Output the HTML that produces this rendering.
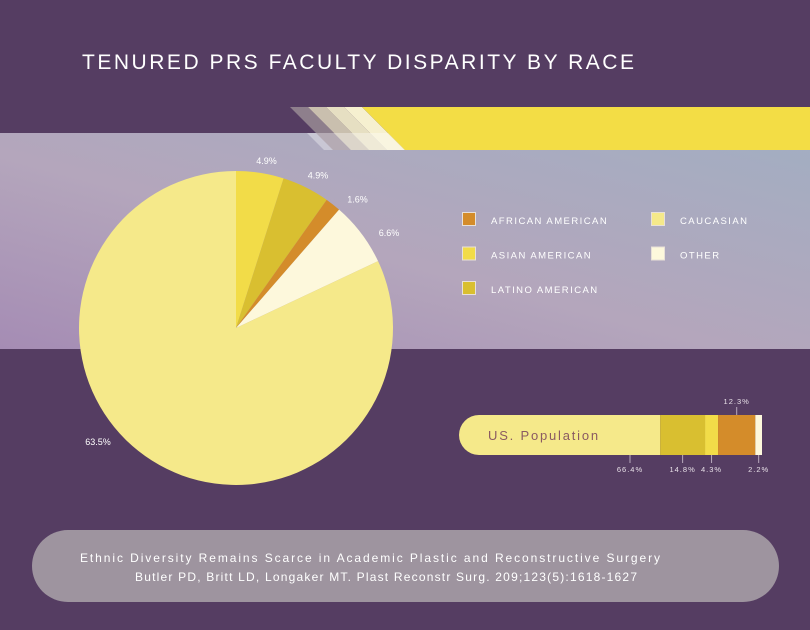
<!DOCTYPE html>
<html><head><meta charset="utf-8"><style>
body{margin:0;width:810px;height:630px;overflow:hidden;background:#553d62;font-family:"Liberation Sans",sans-serif}
svg{display:block}
</style></head><body>
<svg width="810" height="630" viewBox="0 0 810 630">
<defs>
<linearGradient id="band" x1="0" y1="1" x2="1" y2="0">
<stop offset="0" stop-color="#a58cb4"/><stop offset="0.45" stop-color="#b4a6bc"/><stop offset="1" stop-color="#a2aec2"/>
</linearGradient>
</defs>
<rect x="0" y="0" width="810" height="630" fill="#553d62"/>
<text x="82" y="69" fill="#fff" font-size="21" textLength="552" lengthAdjust="spacing">TENURED PRS FACULTY DISPARITY BY RACE</text>
<rect x="0" y="133" width="810" height="216" fill="url(#band)"/>
<g>
<polygon points="290,107 308,107 351,150 333,150" fill="#8e7f8c"/>
<polygon points="308,107 326,107 369,150 351,150" fill="#c9bfae"/>
<polygon points="326,107 344,107 387,150 369,150" fill="#e6dfc2"/>
<polygon points="344,107 362,107 405,150 387,150" fill="#f6f0d0"/>
<polygon points="307,133 387,133 404,150 324,150" fill="#fff" opacity="0.35"/>
<polygon points="362,107 810,107 810,150 405,150" fill="#f3dd45"/>
</g>
<g id="pie"></g>
<g id="legend"></g>
<g id="bar"></g>
<rect x="32" y="530" width="747" height="72" rx="36" fill="#9e949f"/>
<text x="80" y="562" fill="#fff" font-size="12" textLength="580" lengthAdjust="spacing">Ethnic Diversity Remains Scarce in Academic Plastic and Reconstructive Surgery</text>
<text x="135" y="581" fill="#fff" font-size="12" textLength="502" lengthAdjust="spacing">Butler PD, Britt LD, Longaker MT. Plast Reconstr Surg. 209;123(5):1618-1627</text>
</svg>
<script>
const pieCategories=["Asian American","Latino American","African American","Other","Caucasian"];
const pieValues=[4.9,4.9,1.6,6.6,63.5];
const pieLabels=["4.9%","4.9%","1.6%","6.6%","63.5%"];
const pieColors=["#f2dc48","#d9bf30","#d48c2a","#fdf8dc","#f5e98a"];
const barCategories=["Caucasian","Latino American","Asian American","African American","Other"];
const barValues=[66.4,14.8,4.3,12.3,2.2];
const barLabels=["66.4%","14.8%","4.3%","12.3%","2.2%"];
const barColors=["#f5e98a","#d9bf30","#f2dc48","#d48c2a","#fdf8dc"];
const legendItems=[["AFRICAN AMERICAN","#d48c2a"],["ASIAN AMERICAN","#f2dc48"],["LATINO AMERICAN","#d9bf30"],["CAUCASIAN","#f5e98a"],["OTHER","#fdf8dc"]];
const NS="http://www.w3.org/2000/svg";
function mk(t,a,p){const e=document.createElementNS(NS,t);for(const k in a)e.setAttribute(k,a[k]);p.appendChild(e);return e;}
const cx=236,cy=328,r=157;
const total=Math.max(100,pieValues.reduce((a,b)=>a+b,0));
const ang=v=>v/total*2*Math.PI;
const pie=document.getElementById('pie');
let a0=0;
pieValues.forEach((v,i)=>{
  let a1=(i===pieValues.length-1)?2*Math.PI:a0+ang(v);
  const x0=cx+r*Math.sin(a0),y0=cy-r*Math.cos(a0),x1=cx+r*Math.sin(a1),y1=cy-r*Math.cos(a1);
  const large=(a1-a0)>Math.PI?1:0;
  const p=mk('path',{d:`M${cx},${cy}L${x0},${y0}A${r},${r} 0 ${large} 1 ${x1},${y1}Z`,fill:pieColors[i]},pie);
  
  
  let lx,ly;
  if(i===pieValues.length-1){lx=98;ly=445;}
  else{const m=(a0+a1)/2+0.06*(i>1?1:0);const lr=r+16+i*2;lx=cx+lr*Math.sin(m)+4;ly=cy-lr*Math.cos(m)+7;}
  const t=mk('text',{x:lx,y:ly,fill:'#fff','font-size':9,'text-anchor':'middle'},pie);
  t.textContent=pieLabels[i];
  
  
  a0=a1;
});
const lg=document.getElementById('legend');
legendItems.forEach((it,i)=>{
  const col=i<3?0:1,row=i<3?i:i-3;
  const x=462+col*189,y=212+row*34.5;
  const g=mk('g',{},lg);
  
  
  mk('rect',{x:x+0.5,y:y+0.5,width:13,height:13,fill:it[1],stroke:'#e8e0d8','stroke-width':1},g);
  const t=mk('text',{x:x+29,y:y+12,fill:'#fff','font-size':9.5,'letter-spacing':1.45},g);
  t.textContent=it[0];
});
const bar=document.getElementById('bar');
const bx=459,by=415,bh=40,bw=303;
const sx=v=>v/100*bw;
let x=bx;
barValues.forEach((v,i)=>{
  const w=sx(v);
  let el;
  if(i===0){el=mk('path',{d:`M${bx+20},${by}H${x+w}V${by+bh}H${bx+20}A20,20 0 0 1 ${bx+20},${by}Z`,fill:barColors[i]},bar);}
  else el=mk('rect',{x:x,y:by,width:w,height:bh,fill:barColors[i]},bar);
  
  
  const mx=i===0?bx+sx(v*0.85):x+w/2;
  const top=i===3;
  mk('line',{x1:mx,y1:top?by-8:by+bh,x2:mx,y2:top?by:by+bh+8,stroke:'#b8a9bc','stroke-width':1},bar);
  const t=mk('text',{x:mx,y:top?by-11:by+bh+17,fill:'#e8e0e8','font-size':7.5,'text-anchor':'middle','letter-spacing':1},bar);
  t.textContent=barLabels[i];
  
  
  x+=w;
});
const bt=mk('text',{x:488,y:440,fill:'#8a5a62','font-size':13,'letter-spacing':1.8},bar);
bt.textContent='US. Population';


</script>
</body></html>
